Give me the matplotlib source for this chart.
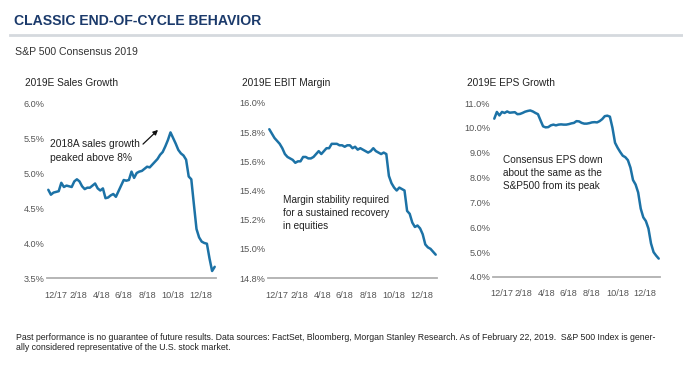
import matplotlib.pyplot as plt
import matplotlib.ticker as mticker
import numpy as np

# weekly consensus estimates, roughly Nov 2017 -> Feb 22, 2019
sales_growth = [4.76, 4.69, 4.72, 4.73, 4.74, 4.86, 4.80, 4.82, 4.81, 4.80,
                4.88, 4.91, 4.88, 4.81, 4.77, 4.79, 4.79, 4.82, 4.85, 4.78,
                4.75, 4.78, 4.64, 4.65, 4.68, 4.70, 4.66, 4.74, 4.82, 4.90,
                4.89, 4.90, 5.02, 4.93, 5.00, 5.02, 5.03, 5.06, 5.09, 5.08,
                5.12, 5.16, 5.20, 5.26, 5.30, 5.38, 5.47, 5.58, 5.50, 5.42,
                5.33, 5.28, 5.25, 5.19, 4.95, 4.91, 4.55, 4.20, 4.08, 4.02,
                4.00, 3.99, 3.78, 3.60, 3.66]
ebit_margin = [15.82, 15.79, 15.76, 15.74, 15.72, 15.69, 15.65, 15.63, 15.62, 15.61,
               15.59, 15.60, 15.60, 15.63, 15.63, 15.62, 15.62, 15.63, 15.65, 15.67,
               15.65, 15.67, 15.69, 15.69, 15.72, 15.72, 15.72, 15.71, 15.71, 15.70,
               15.71, 15.71, 15.69, 15.70, 15.68, 15.69, 15.68, 15.67, 15.66, 15.67,
               15.69, 15.67, 15.66, 15.65, 15.66, 15.65, 15.50, 15.45, 15.42, 15.40,
               15.42, 15.41, 15.40, 15.26, 15.24, 15.18, 15.15, 15.16, 15.14, 15.10,
               15.03, 15.01, 15.00, 14.98, 14.96]
eps_growth = [10.37, 10.64, 10.50, 10.64, 10.60, 10.66, 10.61, 10.62, 10.63, 10.55,
              10.56, 10.60, 10.65, 10.68, 10.70, 10.66, 10.60, 10.55, 10.30, 10.06,
              10.02, 10.03, 10.10, 10.13, 10.10, 10.13, 10.14, 10.13, 10.13, 10.15,
              10.18, 10.20, 10.27, 10.26, 10.20, 10.17, 10.17, 10.19, 10.22, 10.23,
              10.22, 10.27, 10.35, 10.47, 10.49, 10.45, 10.00, 9.40, 9.20, 9.03,
              8.88, 8.82, 8.70, 8.40, 7.90, 7.72, 7.40, 6.75, 6.40, 6.25,
              5.95, 5.35, 5.00, 4.86, 4.74]

tick_labels = ["12/17", "2/18", "4/18", "6/18", "8/18", "10/18", "12/18"]
tick_pos = [3, 11.5, 20.5, 29, 38, 48, 58.5]

W, H = 683, 373
LINE = "#1c72a6"

plt.rcParams["font.family"] = ["Liberation Sans", "DejaVu Sans"]
fig = plt.figure(figsize=(W / 100, H / 100), dpi=100)


def px_axes(x0, x1, ytop, ybot):
    return fig.add_axes([x0 / W, 1 - ybot / H, (x1 - x0) / W, (ybot - ytop) / H])


panels = [
    (sales_growth, (47, 216, 103, 278), (3.5, 6.0), 0.5, "2019E Sales Growth", 25),
    (ebit_margin, (268, 437, 103, 278), (14.8, 16.0), 0.2, "2019E EBIT Margin", 242),
    (eps_growth, (493, 660, 103, 277), (4.0, 11.0), 1.0, "2019E EPS Growth", 467),
]

axes = []
for vals, box, ylim, step, title, tx in panels:
    ax = px_axes(*box)
    x = np.arange(len(vals))
    ax.plot(x, vals, color=LINE, linewidth=1.8, solid_capstyle="round")
    ax.set_xlim(-0.5, len(vals) - 0.5)
    ax.set_ylim(*ylim)
    ax.yaxis.set_major_locator(mticker.MultipleLocator(step))
    ax.yaxis.set_major_formatter(mticker.FormatStrFormatter("%.1f%%"))
    ax.set_xticks(tick_pos)
    ax.set_xticklabels(tick_labels)
    ax.tick_params(length=0, labelsize=6.6, labelcolor="#555555", pad=2)
    ax.tick_params(axis="x", pad=9)
    for s in ["top", "right", "left"]:
        ax.spines[s].set_visible(False)
    ax.spines["bottom"].set_color("#b0b0b0")
    ax.spines["bottom"].set_linewidth(1.3)
    ax.set_facecolor("none")
    fig.text(tx / W, 1 - 83 / H, title, fontsize=7.3, color="#222222",
             va="center", ha="left")
    axes.append(ax)

# annotations
fig.text(50 / W, 1 - 151 / H, "2018A sales growth\npeaked above 8%", fontsize=7.4,
         color="#222222", va="center", ha="left", linespacing=1.4)
axes[0].annotate("", xy=(160 / W, 1 - 128 / H), xytext=(141 / W, 1 - 146 / H),
                 xycoords="figure fraction", textcoords="figure fraction",
                 arrowprops=dict(arrowstyle="-|>", color="#111111", lw=0.9,
                                 mutation_scale=7))
fig.text(283 / W, 1 - 213 / H, "Margin stability required\nfor a sustained recovery\nin equities",
         fontsize=7.2, color="#222222", va="center", ha="left", linespacing=1.4)
fig.text(503 / W, 1 - 173 / H, "Consensus EPS down\nabout the same as the\nS&P500 from its peak",
         fontsize=7.2, color="#222222", va="center", ha="left", linespacing=1.4)

# header
fig.text(14 / W, 1 - 21 / H, "CLASSIC END-OF-CYCLE BEHAVIOR", fontsize=10.1,
         fontweight="bold", color="#1b3a6b", va="center", ha="left")
fig.add_artist(plt.Line2D([10 / W, 1.0], [1 - 35 / H, 1 - 35 / H], color="#d5d9de",
                          linewidth=2, transform=fig.transFigure))
fig.text(15 / W, 1 - 52 / H, "S&P 500 Consensus 2019", fontsize=7.6,
         color="#333333", va="center", ha="left")

# footnote
fig.text(16 / W, 1 - 337 / H,
         "Past performance is no guarantee of future results. Data sources: FactSet, Bloomberg, "
         "Morgan Stanley Research. As of February 22, 2019.  S&P 500 Index is gener-",
         fontsize=6.3, color="#222222", va="center", ha="left")
fig.text(16 / W, 1 - 347 / H, "ally considered representative of the U.S. stock market.",
         fontsize=6.3, color="#222222", va="center", ha="left")

plt.savefig("out.png", dpi=100)
